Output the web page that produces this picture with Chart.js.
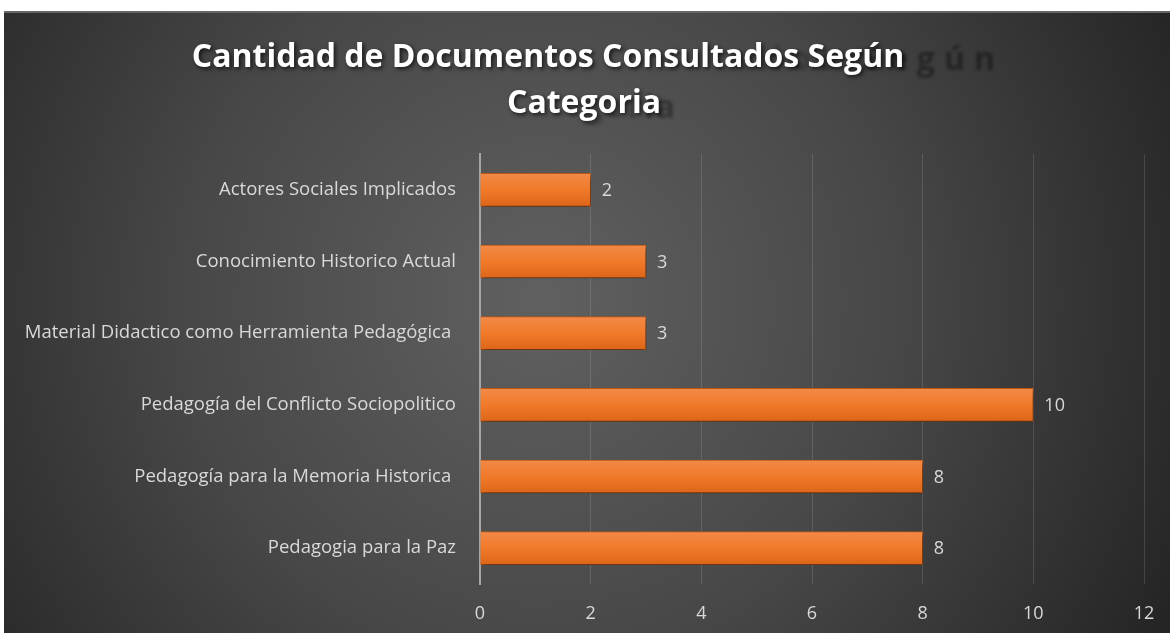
<!DOCTYPE html>
<html>
<head>
<meta charset="utf-8">
<script src="https://cdn.jsdelivr.net/npm/chart.js@4.4.0/dist/chart.umd.min.js"></script>
<style>
  html, body { margin: 0; padding: 0; background: #ffffff; }
  #wrap { width: 1170px; height: 633px; position: relative; }
</style>
</head>
<body>
<div id="wrap"><canvas id="myChart" width="1170" height="633"></canvas></div>
<script>
var categorias = [
    'Actores Sociales Implicados',
    'Conocimiento Historico Actual',
    'Material Didactico como Herramienta Pedagógica ',
    'Pedagogía del Conflicto Sociopolitico',
    'Pedagogía para la Memoria Historica ',
    'Pedagogia para la Paz'
];
var documentos = [2, 3, 3, 10, 8, 8];
var tituloLineas = ['Cantidad de Documentos Consultados Según', 'Categoria'];
var ejeMin = 0, ejeMax = 12, ejePaso = 2;

var fuente = '"Open Sans", Lato, sans-serif';

// fondo oscuro con degradado radial
var fondoPlugin = {
    id: 'fondo',
    beforeDraw: function (chart) {
        var ctx = chart.ctx;
        ctx.save();
        ctx.fillStyle = '#ffffff';
        ctx.fillRect(0, 0, chart.width, chart.height);
        var g = ctx.createRadialGradient(540, 300, 20, 540, 300, 700);
        g.addColorStop(0, '#5f5f5f');
        g.addColorStop(0.5, '#474747');
        g.addColorStop(1, '#252525');
        ctx.fillStyle = g;
        ctx.fillRect(4, 11, chart.width - 4, chart.height - 11);
        ctx.fillStyle = '#666666';
        ctx.fillRect(4, 11, chart.width - 4, 2);
        ctx.restore();
    }
};

function desvanecer(ctx, x0, x1, a) {
    var f = ctx.createLinearGradient(x0, 0, x1, 0);
    f.addColorStop(0, 'rgba(0,0,0,0)');
    f.addColorStop(1, 'rgba(0,0,0,' + a + ')');
    return f;
}

// titulo con su reflejo borroso (copia espaciada detras)
var tituloPlugin = {
    id: 'titulo',
    afterDraw: function (chart) {
        var ctx = chart.ctx;
        ctx.save();
        ctx.font = 'bold 32px ' + fuente;
        ctx.textBaseline = 'alphabetic';

        ctx.save();
        ctx.textAlign = 'right';
        ctx.filter = 'blur(1.5px)';
        ctx.letterSpacing = '9px';
        ctx.fillStyle = desvanecer(ctx, 700, 920, 0.38);
        ctx.fillText(tituloLineas[0], 1004, 70);
        ctx.letterSpacing = '2px';
        ctx.fillStyle = desvanecer(ctx, 560, 670, 0.35);
        ctx.fillText(tituloLineas[1], 677, 118);
        ctx.restore();

        ctx.textAlign = 'center';
        ctx.shadowColor = 'rgba(0,0,0,0.7)';
        ctx.shadowBlur = 4;
        ctx.shadowOffsetX = 2;
        ctx.shadowOffsetY = 2;
        ctx.fillStyle = '#ffffff';
        ctx.fillText(tituloLineas[0], 548, 67);
        ctx.fillText(tituloLineas[1], 584, 113);
        ctx.restore();
    }
};

// sombra de las barras y etiquetas de valor
var barrasPlugin = {
    id: 'barras',
    beforeDatasetsDraw: function (chart) {
        var ctx = chart.ctx;
        ctx.save();
        ctx.shadowColor = 'rgba(0,0,0,0.55)';
        ctx.shadowBlur = 6;
        ctx.shadowOffsetX = 2;
        ctx.shadowOffsetY = 3;
    },
    afterDatasetsDraw: function (chart) {
        var ctx = chart.ctx;
        ctx.restore();
        ctx.save();
        ctx.font = '18px ' + fuente;
        ctx.fillStyle = '#d9d9d9';
        ctx.textAlign = 'left';
        ctx.textBaseline = 'middle';
        chart.getDatasetMeta(0).data.forEach(function (bar, i) {
            ctx.fillText(documentos[i], bar.x + 11, bar.y + 1);
        });
        ctx.restore();
    }
};

var canvas = document.getElementById('myChart');
var ctx = canvas.getContext('2d');
var myNewChart = new Chart(ctx, {
    type: 'bar',
    data: {
        labels: categorias,
        datasets: [{
            data: documentos,
            backgroundColor: function (c) {
                var y = c.chart.scales.y;
                if (!y || c.dataIndex == null) return '#ED7D31';
                var cy = y.getPixelForValue(c.dataIndex);
                if (!isFinite(cy)) return '#ED7D31';
                var g = c.chart.ctx.createLinearGradient(0, cy - 17, 0, cy + 17);
                g.addColorStop(0, '#f28a48');
                g.addColorStop(0.5, '#f07a2a');
                g.addColorStop(1, '#dc6418');
                return g;
            },
            borderColor: '#c85f1c',
            borderWidth: 1,
            barThickness: 33
        }]
    },
    options: {
        indexAxis: 'y',
        responsive: false,
        animation: false,
        layout: { padding: { top: 154, right: 26, left: 0, bottom: 0 } },
        plugins: {
            legend: { display: false },
            title: { display: false },
            tooltip: { enabled: false }
        },
        scales: {
            x: {
                min: ejeMin,
                max: ejeMax,
                ticks: {
                    stepSize: ejePaso,
                    color: '#d9d9d9',
                    font: { family: fuente, size: 18 },
                    padding: 19
                },
                grid: {
                    color: 'rgba(255,255,255,0.13)',
                    lineWidth: 1,
                    drawTicks: false
                },
                border: { display: false },
                afterFit: function (s) {
                    s.height = 49;
                    s.paddingRight = 0;
                }
            },
            y: {
                ticks: {
                    color: '#d9d9d9',
                    font: { family: fuente, size: 18.5 },
                    padding: 24
                },
                grid: { display: false, drawTicks: false },
                border: { display: true, color: '#a6a6a6', width: 2 },
                afterFit: function (s) { s.width = 480; }
            }
        }
    },
    plugins: [fondoPlugin, tituloPlugin, barrasPlugin]
});
</script>
</body>
</html>
